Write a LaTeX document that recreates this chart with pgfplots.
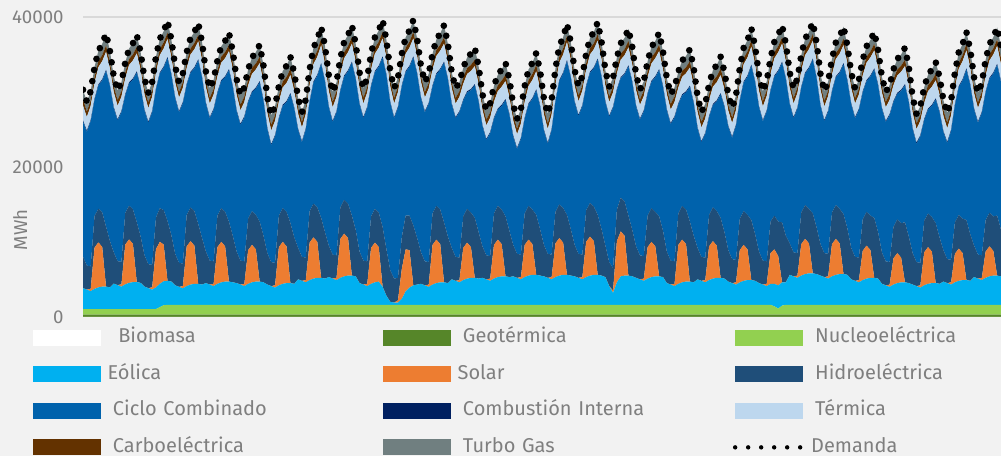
\documentclass[border=0pt]{standalone}
\usepackage{fontspec}
\setmainfont{Fira Sans}
\usepackage{pgfplots}
\pgfplotsset{compat=1.18}
\usepackage{pgfplotstable}

\definecolor{bg}{HTML}{F2F2F2}
\definecolor{txt}{HTML}{7F7F7F}
\definecolor{gridc}{HTML}{D9D9D9}
\definecolor{cBio}{HTML}{FFFFFF}
\definecolor{cGeo}{HTML}{568629}
\definecolor{cNuc}{HTML}{92D050}
\definecolor{cEol}{HTML}{00B0F0}
\definecolor{cSol}{HTML}{ED7D31}
\definecolor{cHid}{HTML}{1F4E79}
\definecolor{cCC}{HTML}{0062AC}
\definecolor{cCI}{HTML}{002060}
\definecolor{cTer}{HTML}{BDD7EE}
\definecolor{cCar}{HTML}{633200}
\definecolor{cTG}{HTML}{707F80}

\pgfplotsset{
  barleg/.style={legend image code/.code={\fill[##1,draw=none] (0pt,-6pt) rectangle (51pt,6pt);}},
  dotleg/.style={legend image code/.code={\draw[black,line width=3.3pt,line cap=round,dash pattern=on 0pt off 9.75pt] (0pt,0pt) -- (49pt,0pt);}},
}

% hourly generation by source (MWh), sampled every 3 hours
\pgfplotstableread{
h bio geo nuc eol sol hid cc ci ter car tg dem
1 20 300 730 2800 0 4200 18000 150 2000 800 1300 30300
4 20 300 730 2600 0 3200 17850 150 1800 750 1300 28700
7 20 300 730 2400 300 3000 19350 150 1900 750 1200 30100
10 20 300 730 2700 5500 4200 15500 150 2100 800 1300 33300
13 20 300 730 2900 6000 4500 16400 150 2300 800 1400 35500
16 20 300 730 3000 5300 4600 17600 150 2400 800 1500 36400
19 20 300 730 3000 0 8000 20750 150 2400 850 1600 37800
22 20 300 730 2900 0 6200 20650 150 2200 850 1500 35500
25 20 300 730 3400 0 4200 19200 150 2000 800 1300 32100
28 20 300 730 3200 0 3200 18750 150 1800 750 1300 30200
31 20 300 730 3000 300 3000 19950 150 1900 750 1200 31300
34 20 300 730 3300 5300 4200 15700 150 2100 800 1300 33900
37 20 300 730 3500 5800 4500 16300 150 2300 800 1400 35800
40 20 300 730 3600 5100 4600 17300 150 2400 800 1500 36500
43 20 300 730 3600 0 8000 19950 150 2400 850 1600 37600
46 20 300 730 3500 0 6200 19850 150 2200 850 1500 35300
49 20 300 730 3000 0 4200 19300 150 2000 800 1300 31800
52 20 300 730 2800 0 3200 18850 150 1800 750 1300 29900
55 20 300 730 2600 300 3000 20350 150 1900 750 1200 31300
58 20 300 730 2900 5100 4200 17100 150 2100 800 1300 34700
61 20 300 1000 3100 5600 4500 17930 150 2300 800 1400 37100
64 20 300 1250 3200 4900 4600 18980 150 2400 800 1500 38100
67 20 300 1300 3200 0 8000 21680 150 2400 850 1600 39500
70 20 300 1300 3100 0 6200 21380 150 2200 850 1500 37000
73 20 300 1300 2600 0 4200 20730 150 2000 800 1300 33400
76 20 300 1300 2400 0 3200 20080 150 1800 750 1300 31300
79 20 300 1300 2200 300 3000 21380 150 1900 750 1200 32500
82 20 300 1300 2500 5300 4200 17330 150 2100 800 1300 35300
85 20 300 1300 2700 5800 4500 17930 150 2300 800 1400 37200
88 20 300 1300 2800 5100 4600 19030 150 2400 800 1500 38000
91 20 300 1300 2800 0 8000 21780 150 2400 850 1600 39200
94 20 300 1300 2700 0 6200 21380 150 2200 850 1500 36600
97 20 300 1300 2900 0 4200 19730 150 2000 800 1300 32700
100 20 300 1300 2700 0 3200 18980 150 1800 750 1300 30500
103 20 300 1300 2500 300 3000 20180 150 1900 750 1200 31600
106 20 300 1300 2800 4900 4200 16330 150 2100 800 1300 34200
109 20 300 1300 3000 5400 4500 16930 150 2300 800 1400 36100
112 20 300 1300 3100 4700 4600 17930 150 2400 800 1500 36800
115 20 300 1300 3100 0 8000 20180 150 2400 850 1600 37900
118 20 300 1300 3000 0 6200 19880 150 2200 850 1500 35400
121 20 300 1300 2900 0 4200 18730 150 2000 800 1300 31700
124 20 300 1300 2700 0 3200 18080 150 1800 750 1300 29600
127 20 300 1300 2500 300 3000 19180 150 1900 750 1200 30600
130 20 300 1300 2800 4500 4200 15530 150 2100 800 1300 33000
133 20 300 1300 3000 5000 4500 15830 150 2300 800 1400 34600
136 20 300 1300 3100 4300 4600 16830 150 2400 800 1500 35300
139 20 300 1300 3100 0 8000 18580 150 2400 850 1600 36300
142 20 300 1300 3000 0 6200 17980 150 2200 850 1500 33500
145 20 300 1300 2700 0 4200 16530 150 2000 800 1300 29300
148 20 300 1300 2500 0 3200 15580 150 1800 750 1300 26900
151 20 300 1300 2300 300 3000 16880 150 1900 750 1200 28100
154 20 300 1300 2600 5100 4200 12930 150 2100 800 1300 30800
157 20 300 1300 2800 5600 4500 13630 150 2300 800 1400 32800
160 20 300 1300 2900 4900 4600 14630 150 2400 800 1500 33500
163 20 300 1300 2900 0 8000 17180 150 2400 850 1600 34700
166 20 300 1300 2800 0 6200 17180 150 2200 850 1500 32500
169 20 300 1300 3400 0 4200 15730 150 2000 800 1300 29200
172 20 300 1300 3200 0 3200 15280 150 1800 750 1300 27300
175 20 300 1300 3000 300 3000 17080 150 1900 750 1200 29000
178 20 300 1300 3300 5000 4200 14530 150 2100 800 1300 33000
181 20 300 1300 3500 5500 4500 16130 150 2300 800 1400 35900
184 20 300 1300 3600 4800 4600 17530 150 2400 800 1500 37000
187 20 300 1300 3600 0 8000 20480 150 2400 850 1600 38700
190 20 300 1300 3500 0 6200 20080 150 2200 850 1500 36100
193 20 300 1300 3700 0 4200 18430 150 2000 800 1300 32200
196 20 300 1300 3500 0 3200 17680 150 1800 750 1300 30000
199 20 300 1300 3300 300 3000 19080 150 1900 750 1200 31300
202 20 300 1300 3600 5200 4200 15530 150 2100 800 1300 34500
205 20 300 1300 3800 5700 4500 16430 150 2300 800 1400 36700
208 20 300 1300 3900 5000 4600 17630 150 2400 800 1500 37600
211 20 300 1300 3900 0 8000 20380 150 2400 850 1600 38900
214 20 300 1300 3800 0 6200 20080 150 2200 850 1500 36400
217 20 300 1300 2900 0 4200 19630 150 2000 800 1300 32600
220 20 300 1300 2700 0 3200 18980 150 1800 750 1300 30500
223 20 300 1300 2500 300 3000 20480 150 1900 750 1200 31900
226 20 300 1300 2800 4800 4200 17330 150 2100 800 1300 35100
229 20 300 1300 3000 5300 4500 18230 150 2300 800 1400 37300
232 20 300 1300 3100 4600 4600 19430 150 2400 800 1500 38200
235 20 300 1300 2400 0 8000 22580 150 2400 850 1600 39600
238 20 300 1300 1200 0 6200 23180 150 2200 850 1500 36900
241 20 300 1300 400 0 4200 22330 150 2000 800 1300 32800
244 20 300 1300 300 0 3200 21380 150 1800 750 1300 30500
247 20 300 1300 300 300 3000 22680 150 1900 750 1200 31900
250 20 300 1300 800 4000 4200 20130 150 2100 800 1300 35100
253 20 300 1300 1800 5600 4500 19130 150 2300 800 1400 37300
256 20 300 1300 2300 5000 4600 19830 150 2400 800 1500 38200
259 20 300 1300 2600 0 8000 22380 150 2400 850 1600 39600
262 20 300 1300 2700 0 6200 21880 150 2200 850 1500 37100
265 20 300 1300 2800 0 4200 20530 150 2000 800 1300 33400
268 20 300 1300 2600 0 3200 19880 150 1800 750 1300 31300
271 20 300 1300 2400 300 3000 21080 150 1900 750 1200 32400
274 20 300 1300 2700 5300 4200 16930 150 2100 800 1300 35100
277 20 300 1300 2900 5800 4500 17530 150 2300 800 1400 37000
280 20 300 1300 3000 5100 4600 18630 150 2400 800 1500 37800
283 20 300 1300 3000 0 8000 21280 150 2400 850 1600 38900
286 20 300 1300 2900 0 6200 20980 150 2200 850 1500 36400
289 20 300 1300 3400 0 4200 19130 150 2000 800 1300 32600
292 20 300 1300 3200 0 3200 18480 150 1800 750 1300 30500
295 20 300 1300 3000 300 3000 19380 150 1900 750 1200 31300
298 20 300 1300 3300 4300 4200 15430 150 2100 800 1300 33200
301 20 300 1300 3500 4800 4500 15530 150 2300 800 1400 34600
304 20 300 1300 3600 4100 4600 16330 150 2400 800 1500 35100
307 20 300 1300 3600 0 8000 17680 150 2400 850 1600 35900
310 20 300 1300 3500 0 6200 17380 150 2200 850 1500 33400
313 20 300 1300 3600 0 4200 16030 150 2000 800 1300 29700
316 20 300 1300 3400 0 3200 15380 150 1800 750 1300 27600
319 20 300 1300 3200 300 3000 16380 150 1900 750 1200 28500
322 20 300 1300 3500 4500 4200 12630 150 2100 800 1300 30800
325 20 300 1300 3700 5000 4500 12830 150 2300 800 1400 32300
328 20 300 1300 3800 4300 4600 13830 150 2400 800 1500 33000
331 20 300 1300 3800 0 8000 15480 150 2400 850 1600 33900
334 20 300 1300 3700 0 6200 15480 150 2200 850 1500 31700
337 20 300 1300 3800 0 4200 14430 150 2000 800 1300 28300
340 20 300 1300 3600 0 3200 13980 150 1800 750 1300 26400
343 20 300 1300 3400 300 3000 15380 150 1900 750 1200 27700
346 20 300 1300 3700 4300 4200 12630 150 2100 800 1300 30800
349 20 300 1300 3900 4800 4500 13530 150 2300 800 1400 33000
352 20 300 1300 4000 4100 4600 14730 150 2400 800 1500 33900
355 20 300 1300 4000 0 8000 16580 150 2400 850 1600 35200
358 20 300 1300 3900 0 6200 16380 150 2200 850 1500 32800
361 20 300 1300 3800 0 4200 15230 150 2000 800 1300 29100
364 20 300 1300 3600 0 3200 14680 150 1800 750 1300 27100
367 20 300 1300 3400 300 3000 16580 150 1900 750 1200 28900
370 20 300 1300 3700 4500 4200 14730 150 2100 800 1300 33100
373 20 300 1300 3900 5000 4500 16430 150 2300 800 1400 36100
376 20 300 1300 4000 4300 4600 17930 150 2400 800 1500 37300
379 20 300 1300 4000 0 8000 20480 150 2400 850 1600 39100
382 20 300 1300 3900 0 6200 20180 150 2200 850 1500 36600
385 20 300 1300 3800 0 4200 19030 150 2000 800 1300 32900
388 20 300 1300 3600 0 3200 18380 150 1800 750 1300 30800
391 20 300 1300 3400 300 3000 19780 150 1900 750 1200 32100
394 20 300 1300 3700 4700 4200 16530 150 2100 800 1300 35100
397 20 300 1300 3900 5200 4500 17330 150 2300 800 1400 37200
400 20 300 1300 4000 4500 4600 18430 150 2400 800 1500 38000
403 20 300 1300 4000 0 8000 20680 150 2400 850 1600 39300
406 20 300 1300 3900 0 6200 20280 150 2200 850 1500 36700
409 20 300 1300 3700 0 4200 19130 150 2000 800 1300 32900
412 20 300 1300 2500 0 3200 19380 150 1800 750 1300 30700
415 20 300 1300 1600 300 3000 21380 150 1900 750 1200 31900
418 20 300 1300 3000 5500 4200 15930 150 2100 800 1300 34600
421 20 300 1300 3800 6000 4500 15930 150 2300 800 1400 36500
424 20 300 1300 3900 5300 4600 16930 150 2400 800 1500 37200
427 20 300 1300 3900 0 8000 19880 150 2400 850 1600 38400
430 20 300 1300 3800 0 6200 19680 150 2200 850 1500 36000
433 20 300 1300 3600 0 4200 18630 150 2000 800 1300 32300
436 20 300 1300 3400 0 3200 18080 150 1800 750 1300 30300
439 20 300 1300 3200 300 3000 19280 150 1900 750 1200 31400
442 20 300 1300 3500 4200 4200 16230 150 2100 800 1300 34100
445 20 300 1300 3700 4700 4500 16830 150 2300 800 1400 36000
448 20 300 1300 3800 4000 4600 17930 150 2400 800 1500 36800
451 20 300 1300 3800 0 8000 19480 150 2400 850 1600 37900
454 20 300 1300 3700 0 6200 19180 150 2200 850 1500 35400
457 20 300 1300 2900 0 4200 18830 150 2000 800 1300 31800
460 20 300 1300 2700 0 3200 18180 150 1800 750 1300 29700
463 20 300 1300 2500 300 3000 19180 150 1900 750 1200 30600
466 20 300 1300 2800 5200 4200 14530 150 2100 800 1300 32700
469 20 300 1300 3000 5700 4500 14730 150 2300 800 1400 34200
472 20 300 1300 3100 5000 4600 15630 150 2400 800 1500 34800
475 20 300 1300 3100 0 8000 17980 150 2400 850 1600 35700
478 20 300 1300 3000 0 6200 17680 150 2200 850 1500 33200
481 20 300 1300 3400 0 4200 15930 150 2000 800 1300 29400
484 20 300 1300 3200 0 3200 15280 150 1800 750 1300 27300
487 20 300 1300 3000 300 3000 16480 150 1900 750 1200 28400
490 20 300 1300 3300 4500 4200 13030 150 2100 800 1300 31000
493 20 300 1300 3500 5000 4500 13630 150 2300 800 1400 32900
496 20 300 1300 3600 4300 4600 14630 150 2400 800 1500 33600
499 20 300 1300 3600 0 8000 16480 150 2400 850 1600 34700
502 20 300 1300 3500 0 6200 16680 150 2200 850 1500 32700
505 20 300 1300 3100 0 4200 16430 150 2000 800 1300 29600
508 20 300 1300 2900 0 3200 16180 150 1800 750 1300 27900
511 20 300 1300 2700 300 3000 17880 150 1900 750 1200 29500
514 20 300 1300 3000 4300 4200 15730 150 2100 800 1300 33200
517 20 300 1300 3200 4800 4500 17130 150 2300 800 1400 35900
520 20 300 1300 3300 4100 4600 18430 150 2400 800 1500 36900
523 20 300 1300 3300 0 8000 20580 150 2400 850 1600 38500
526 20 300 1300 3200 0 6200 20280 150 2200 850 1500 36000
529 20 300 1300 2900 0 4200 19230 150 2000 800 1300 32200
532 20 300 1300 2700 0 3200 18580 150 1800 750 1300 30100
535 20 300 1300 2500 300 3000 19980 150 1900 750 1200 31400
538 20 300 1300 2800 4100 4200 17430 150 2100 800 1300 34500
541 20 300 1100 3000 4600 4500 18530 150 2300 800 1400 36700
544 20 300 800 3100 3900 4600 20030 150 2400 800 1500 37600
547 20 300 1200 3100 0 8000 21280 150 2400 850 1600 38900
550 20 300 1300 3000 0 6200 20880 150 2200 850 1500 36400
553 20 300 1300 4000 0 4200 18530 150 2000 800 1300 32600
556 20 300 1300 3800 0 3200 17880 150 1800 750 1300 30500
559 20 300 1300 3600 300 3000 19280 150 1900 750 1200 31800
562 20 300 1300 3900 4200 4200 16630 150 2100 800 1300 34900
565 20 300 1300 4100 4700 4500 17530 150 2300 800 1400 37100
568 20 300 1300 4200 4000 4600 18730 150 2400 800 1500 38000
571 20 300 1300 4200 0 8000 20480 150 2400 850 1600 39300
574 20 300 1300 4100 0 6200 19880 150 2200 850 1500 36500
577 20 300 1300 3900 0 4200 18430 150 2000 800 1300 32400
580 20 300 1300 3700 0 3200 17580 150 1800 750 1300 30100
583 20 300 1300 3500 300 3000 18980 150 1900 750 1200 31400
586 20 300 1300 3800 4300 4200 16130 150 2100 800 1300 34400
589 20 300 1300 4000 4800 4500 17030 150 2300 800 1400 36600
592 20 300 1300 4100 4100 4600 18130 150 2400 800 1500 37400
595 20 300 1300 4100 0 8000 19980 150 2400 850 1600 38700
598 20 300 1300 4000 0 6200 19680 150 2200 850 1500 36200
601 20 300 1300 3400 0 4200 19130 150 2000 800 1300 32600
604 20 300 1300 3200 0 3200 18480 150 1800 750 1300 30500
607 20 300 1300 3000 300 3000 19680 150 1900 750 1200 31600
610 20 300 1300 3300 3900 4200 16930 150 2100 800 1300 34300
613 20 300 1300 3500 4400 4500 17430 150 2300 800 1400 36100
616 20 300 1300 3600 3700 4600 18530 150 2400 800 1500 36900
619 20 300 1300 3600 0 8000 19780 150 2400 850 1600 38000
622 20 300 1300 3500 0 6200 19580 150 2200 850 1500 35600
625 20 300 1300 2800 0 4200 19130 150 2000 800 1300 32000
628 20 300 1300 2600 0 3200 18580 150 1800 750 1300 30000
631 20 300 1300 2400 300 3000 19580 150 1900 750 1200 30900
634 20 300 1300 2700 3500 4200 16630 150 2100 800 1300 33000
637 20 300 1300 2900 4000 4500 16730 150 2300 800 1400 34400
640 20 300 1300 3000 3300 4600 17630 150 2400 800 1500 35000
643 20 300 1300 3000 0 8000 18280 150 2400 850 1600 35900
646 20 300 1300 2900 0 6200 17880 150 2200 850 1500 33300
649 20 300 1300 2700 0 4200 16530 150 2000 800 1300 29300
652 20 300 1300 2500 0 3200 15780 150 1800 750 1300 27100
655 20 300 1300 2300 300 3000 16880 150 1900 750 1200 28100
658 20 300 1300 2600 4400 4200 13430 150 2100 800 1300 30600
661 20 300 1300 2800 4900 4500 13830 150 2300 800 1400 32300
664 20 300 1300 2900 4200 4600 14830 150 2400 800 1500 33000
667 20 300 1300 2900 0 8000 16480 150 2400 850 1600 34000
670 20 300 1300 2800 0 6200 16680 150 2200 850 1500 32000
673 20 300 1300 3100 0 4200 15730 150 2000 800 1300 28900
676 20 300 1300 2900 0 3200 15480 150 1800 750 1300 27200
679 20 300 1300 2700 300 3000 17180 150 1900 750 1200 28800
682 20 300 1300 3000 3800 4200 15630 150 2100 800 1300 32600
685 20 300 1300 3200 4300 4500 17030 150 2300 800 1400 35300
688 20 300 1300 3300 3600 4600 18430 150 2400 800 1500 36400
691 20 300 1300 3300 0 8000 20080 150 2400 850 1600 38000
694 20 300 1300 3200 0 6200 19880 150 2200 850 1500 35600
697 20 300 1300 3700 0 4200 18130 150 2000 800 1300 31900
700 20 300 1300 3500 0 3200 17580 150 1800 750 1300 29900
703 20 300 1300 3300 300 3000 18980 150 1900 750 1200 31200
706 20 300 1300 3600 3500 4200 17030 150 2100 800 1300 34300
709 20 300 1300 3800 4000 4500 17830 150 2300 800 1400 36400
712 20 300 1300 3900 3300 4600 19030 150 2400 800 1500 37300
715 20 300 1300 3900 0 8000 20080 150 2400 850 1600 38600
718 20 300 1300 3800 0 6200 19680 150 2200 850 1500 36000
}\gen

\begin{document}
\begin{tikzpicture}
\fill[bg] (0,0) rectangle (750.75pt,342pt);
\begin{axis}[
  at={(62.25pt,104.25pt)}, anchor=south west,
  width=688.5pt, height=225pt, scale only axis,
  xmin=1, xmax=718, ymin=0, ymax=40000,
  enlargelimits=false,
  stack plots=y, area style, barleg,
  axis lines*=left,
  x axis line style={draw=none},
  y axis line style={draw=none},
  xtick=\empty,
  ytick={0,20000,40000},
  ytick style={draw=none},
  scaled y ticks=false,
  extra y ticks={40000}, extra y tick labels={},
  extra y tick style={grid=major, major grid style={draw=gridc, line width=0.8pt}},
  yticklabel style={font=\fontsize{14}{16}\selectfont, text=txt, xshift=-11pt,
    /pgf/number format/assume math mode=true, /pgf/number format/1000 sep={}},
  ylabel={MWh},
  every axis y label/.style={at={(axis description cs:-0.0686,0.29)}, rotate=90,
    anchor=center, font=\fontsize{14}{16}\selectfont, text=txt},
  legend columns=3,
  legend style={at={(axis description cs:-0.0545,-0.037)}, anchor=north west,
    draw=none, fill=none, inner sep=0pt, outer sep=0pt,
    font=\fontsize{15}{18}\selectfont, text=txt, row sep=12.9pt,
    nodes={text width=202.5pt, align=left, inner sep=0pt, text height=11pt, text depth=3.5pt},
    /tikz/every odd column/.append style={column sep=9pt}},
]
\addplot[fill=cBio, draw=none] table[x=h, y=bio] {\gen} \closedcycle;
\addlegendentry{\hspace*{4pt}Biomasa}
\addplot[fill=cGeo, draw=none] table[x=h, y=geo] {\gen} \closedcycle;
\addlegendentry{Geotérmica}
\addplot[fill=cNuc, draw=none] table[x=h, y=nuc] {\gen} \closedcycle;
\addlegendentry{Nucleoeléctrica}
\addplot[fill=cEol, draw=none] table[x=h, y=eol] {\gen} \closedcycle;
\addlegendentry{\hspace*{-4pt}Eólica}
\addplot[fill=cSol, draw=none] table[x=h, y=sol] {\gen} \closedcycle;
\addlegendentry{\hspace*{-4pt}Solar}
\addplot[fill=cHid, draw=none] table[x=h, y=hid] {\gen} \closedcycle;
\addlegendentry{Hidroeléctrica}
\addplot[fill=cCC, draw=none] table[x=h, y=cc] {\gen} \closedcycle;
\addlegendentry{Ciclo Combinado}
\addplot[fill=cCI, draw=none] table[x=h, y=ci] {\gen} \closedcycle;
\addlegendentry{Combustión Interna}
\addplot[fill=cTer, draw=none] table[x=h, y=ter] {\gen} \closedcycle;
\addlegendentry{Térmica}
\addplot[fill=cCar, draw=none] table[x=h, y=car] {\gen} \closedcycle;
\addlegendentry{Carboeléctrica}
\addplot[fill=cTG, draw=none] table[x=h, y=tg] {\gen} \closedcycle;
\addlegendentry{Turbo Gas}
\addlegendimage{dotleg}
\addlegendentry{\hspace*{-3pt}Demanda}
\end{axis}
\begin{axis}[
  at={(62.25pt,104.25pt)}, anchor=south west,
  width=688.5pt, height=225pt, scale only axis,
  xmin=1, xmax=718, ymin=0, ymax=40000,
  enlargelimits=false, hide axis,
]
\addplot[black, line width=5pt, line cap=round, line join=round,
  dash pattern=on 0pt off 8.5pt] table[x=h, y=dem] {\gen};
\end{axis}
\pgfresetboundingbox
\path[use as bounding box] (0,0) rectangle (750.75pt,342pt);
\end{tikzpicture}
\end{document}
